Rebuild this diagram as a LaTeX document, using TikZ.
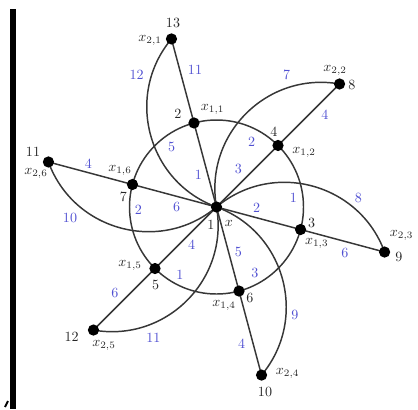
\documentclass[tikz,border=0pt]{standalone}
\usetikzlibrary{backgrounds}
\definecolor{lab}{RGB}{80,80,210}
\definecolor{ln}{RGB}{55,55,55}
\begin{document}
\begin{tikzpicture}[x=0.025cm,y=0.025cm,
  dot/.style={circle,fill=black,inner sep=0pt,minimum size=8pt},
  edge/.style={draw=ln,line width=1.05pt},
  arcedge/.style={edge,bend left=55,looseness=1.08},
  elab/.style={text=lab,inner sep=0pt},
  vlab/.style={text=black!85,inner sep=0pt}]
\useasboundingbox (0,0) rectangle (418,-409);
\fill (10,-9) rectangle (16,-409);
\draw[line width=1.4pt] (5,-407) -- (8,-401);
% vertices
\node[dot] (O) at (216.5,-207) {};
\foreach \i/\a in {1/105,2/45,3/-15,4/-75,5/-135,6/165} {
  \path (O.center) ++(\a:87) node[dot] (p\i) {};
  \path (O.center) ++(\a:174) node[dot] (q\i) {};
}
% edges
\begin{scope}[on background layer]
\draw[edge] (O.center) circle[radius=87];
\foreach \i in {1,...,6} {
  \draw[edge] (O.center) -- (p\i.center) -- (q\i.center);
  \draw[arcedge] (O.center) to (q\i.center);
}
\end{scope}
% vertex labels
\node[vlab] (n13) at (173,-23) {13};
\node[vlab] (n2) at (178,-114) {2};
\node[vlab] (n4) at (274,-132) {4};
\node[vlab] (n8) at (352,-85) {8};
\node[vlab] (n3) at (311.7,-223) {3};
\node[vlab] (n9) at (399,-257) {9};
\node[vlab] (n6) at (250,-298) {6};
\node[vlab] (n10) at (265,-392) {10};
\node[vlab] (n5) at (155.7,-285) {5};
\node[vlab] (n12) at (71.7,-336.7) {12};
\node[vlab] (n7) at (123.3,-196.7) {7};
\node[vlab] (n11) at (33,-151.7) {11};
\node[vlab] (n1) at (211,-225) {1};
\node[vlab] (x21) at (150,-40) {$x_{2,1}$};
\node[vlab] (x11) at (212.5,-109) {$x_{1,1}$};
\node[vlab] (x12) at (304,-152) {$x_{1,2}$};
\node[vlab] (x22) at (335,-70) {$x_{2,2}$};
\node[vlab] (x13) at (316.7,-243.3) {$x_{1,3}$};
\node[vlab] (x23) at (401.5,-235) {$x_{2,3}$};
\node[vlab] (x14) at (224,-305) {$x_{1,4}$};
\node[vlab] (x24) at (287.5,-373.3) {$x_{2,4}$};
\node[vlab] (x15) at (130,-265) {$x_{1,5}$};
\node[vlab] (x25) at (104,-345) {$x_{2,5}$};
\node[vlab] (x16) at (120,-170) {$x_{1,6}$};
\node[vlab] (x26) at (36,-173.3) {$x_{2,6}$};
\node[vlab] (xc) at (229,-223.3) {$x$};
% edge labels
\node[elab] (e1) at (136.7,-75) {12};
\node[elab] (e2) at (195,-70) {11};
\node[elab] (e3) at (171.7,-146.7) {5};
\node[elab] (e4) at (88.3,-163.3) {4};
\node[elab] (e5) at (198.3,-175) {1};
\node[elab] (e6) at (238.3,-169) {3};
\node[elab] (e7) at (251.7,-141.7) {2};
\node[elab] (e8) at (286.7,-75) {7};
\node[elab] (e9) at (325,-115) {4};
\node[elab] (e10) at (293.3,-198.3) {1};
\node[elab] (e11) at (358.3,-198.3) {8};
\node[elab] (e12) at (256.7,-208.3) {2};
\node[elab] (e13) at (345,-253.3) {6};
\node[elab] (e14) at (255,-273.3) {3};
\node[elab] (e15) at (238.3,-251.7) {5};
\node[elab] (e16) at (295,-315) {9};
\node[elab] (e17) at (241.7,-343.3) {4};
\node[elab] (e18) at (191.7,-245) {4};
\node[elab] (e19) at (180,-275) {1};
\node[elab] (e20) at (115,-293.3) {6};
\node[elab] (e21) at (153.3,-338.3) {11};
\node[elab] (e22) at (138.3,-210) {2};
\node[elab] (e23) at (176.7,-206.7) {6};
\node[elab] (e24) at (70,-218.3) {10};
\end{tikzpicture}
\end{document}
